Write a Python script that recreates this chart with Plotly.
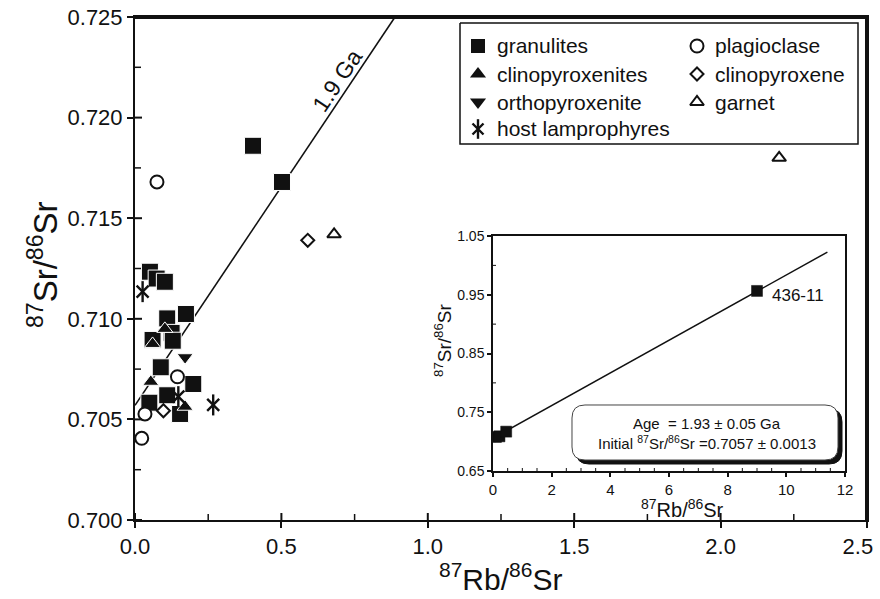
import plotly.graph_objects as go

# ---------------- data: main isochron diagram ----------------
gran_x = [0.051, 0.074, 0.102, 0.110, 0.174, 0.125, 0.060, 0.129, 0.088, 0.199,
          0.110, 0.049, 0.154, 0.403, 0.502]
gran_y = [0.71234, 0.71200, 0.71184, 0.71002, 0.71024, 0.70930, 0.70895, 0.70891,
          0.70759, 0.70676, 0.70620, 0.70583, 0.70527, 0.71860, 0.71680]

cpxite_x = [0.102, 0.060, 0.054, 0.171]
cpxite_y = [0.70950, 0.70875, 0.70687, 0.70563]

opxite_x = [0.171]
opxite_y = [0.70809]

lamp_x = [0.026, 0.148, 0.267]
lamp_y = [0.71135, 0.70613, 0.70572]

plag_x = [0.075, 0.145, 0.034, 0.023]
plag_y = [0.71680, 0.70712, 0.70527, 0.70406]

cpx_x = [0.097, 0.590]
cpx_y = [0.70543, 0.71390]

grt_x = [0.680, 2.200]
grt_y = [0.71420, 0.71800]

# 1.9 Ga reference line
ref_x = [0.0, 0.888]
ref_y = [0.7057, 0.725]

# ---------------- data: whole-rock isochron inset ----------------
iso_x = [0.10, 0.22, 0.45, 9.0]
iso_y = [0.7080, 0.7090, 0.7170, 0.9565]
iso_line_x = [0.0, 11.4]
iso_line_y = [0.7057, 1.0226]
iso_label = "436-11"

# axis ticks
X_RANGE = [0.0, 2.5]
Y_RANGE = [0.700, 0.725]
main_x_major = [0.0, 0.5, 1.0, 1.5, 2.0, 2.5]
main_x_labels = ["0.0", "0.5", "1.0", "1.5", "2.0", "2.5\u00a0\u00a0\u00a0"]
main_x_minor = [0.25, 0.75, 1.25, 1.75, 2.25]
main_y_major = [0.700, 0.705, 0.710, 0.715, 0.720, 0.725]
main_y_minor = [0.7025, 0.7075, 0.7125, 0.7175, 0.7225]
inset_x_major = [0, 2, 4, 6, 8, 10, 12]
inset_x_minor = [v / 2 for v in range(1, 24) if v % 4]
inset_y_major = [0.65, 0.75, 0.85, 0.95, 1.05]
inset_y_minor = [0.70, 0.80, 0.90, 1.00]

# legend entries (two columns)
legend_left = ["granulites", "clinopyroxenites", "orthopyroxenite", "host lamprophyres"]
legend_right = ["plagioclase", "clinopyroxene", "garnet"]

FONT = "Liberation Sans, Arial, sans-serif"
BLACK = "#111111"
CLEAR = "rgba(0,0,0,0)"

W, H = 880, 599
L, R, T, B = 135, 13, 17, 79
PW, PH = W - L - R, H - T - B

# legend frame (pixels)
LG_X0, LG_X1, LG_Y0, LG_Y1 = 460, 858, 23, 144
# inset frame (pixels)
IN_X0, IN_X1, IN_Y0, IN_Y1 = 493, 845, 236, 471


def px(x):
    """pixel column -> paper x"""
    return (x - L) / PW


def py(y):
    """pixel row -> paper y"""
    return (H - B - y) / PH


def main_col(v):
    """main x value -> pixel column"""
    return L + (v - X_RANGE[0]) / (X_RANGE[1] - X_RANGE[0]) * PW


def main_row(v):
    """main y value -> pixel row"""
    return H - B - (v - Y_RANGE[0]) / (Y_RANGE[1] - Y_RANGE[0]) * PH


fig = go.Figure()

# reference line
fig.add_trace(go.Scatter(x=ref_x, y=ref_y, mode="lines",
                         line=dict(color=BLACK, width=1.6), hoverinfo="skip"))

filled_line = dict(color="white", width=1)
open_line = dict(color=BLACK, width=2)

fig.add_trace(go.Scatter(x=gran_x, y=gran_y, mode="markers", name="granulites",
                         marker=dict(symbol="square", size=17, color=BLACK, line=filled_line)))
fig.add_trace(go.Scatter(x=cpxite_x, y=cpxite_y, mode="markers", name="clinopyroxenites",
                         marker=dict(symbol="triangle-up", size=14, color=BLACK, line=filled_line)))
fig.add_trace(go.Scatter(x=opxite_x, y=opxite_y, mode="markers", name="orthopyroxenite",
                         marker=dict(symbol="triangle-down", size=14, color=BLACK, line=filled_line)))
fig.add_trace(go.Scatter(x=plag_x, y=plag_y, mode="markers", name="plagioclase",
                         marker=dict(symbol="circle", size=13, color="white", line=open_line)))
fig.add_trace(go.Scatter(x=cpx_x, y=cpx_y, mode="markers", name="clinopyroxene",
                         marker=dict(symbol="diamond", size=10, color="white", line=open_line)))
fig.add_trace(go.Scatter(x=grt_x, y=grt_y, mode="markers", name="garnet",
                         marker=dict(symbol="triangle-up", size=12, color="white", line=open_line)))
# six-armed star: an X plus a vertical stroke
fig.add_trace(go.Scatter(x=lamp_x, y=lamp_y, mode="markers", name="host lamprophyres",
                         marker=dict(symbol="x-thin-open", size=12, color=BLACK,
                                     line=dict(color=BLACK, width=2.4))))
fig.add_trace(go.Scatter(x=lamp_x, y=lamp_y, mode="markers", showlegend=False,
                         marker=dict(symbol="line-ns-open", size=15, color=BLACK,
                                     line=dict(color=BLACK, width=2.4))))

# inset isochron
fig.add_trace(go.Scatter(x=iso_line_x, y=iso_line_y, mode="lines", xaxis="x2", yaxis="y2",
                         line=dict(color=BLACK, width=1.5), hoverinfo="skip"))
fig.add_trace(go.Scatter(x=iso_x, y=iso_y, mode="markers", xaxis="x2", yaxis="y2",
                         marker=dict(symbol="square", size=11, color=BLACK,
                                     line=dict(color=BLACK, width=0.5))))


# ---- tick marks and legend drawn on a pixel-space subplot over the plot area ----
def segs(pairs):
    xs, ys = [], []
    for (x0, y0), (x1, y1) in pairs:
        xs += [x0, x1, None]
        ys += [y0, y1, None]
    return xs, ys


def pix_trace(xs, ys, width, mode="lines", marker=None):
    fig.add_trace(go.Scatter(x=xs, y=ys, xaxis="x3", yaxis="y3", mode=mode,
                             line=dict(color=BLACK, width=width), marker=marker,
                             cliponaxis=False, hoverinfo="skip", connectgaps=False))


top, bot, lef, rig = T, H - B, L, W - R
# inner halves of the major ticks
major_pairs = [((main_col(v), bot - 7), (main_col(v), bot)) for v in main_x_major]
major_pairs += [((lef, main_row(v)), (lef + 7, main_row(v))) for v in main_y_major]
pix_trace(*segs(major_pairs), 2)
# minor ticks inside
minor_pairs = [((main_col(v), bot - 6), (main_col(v), bot)) for v in main_x_minor]
minor_pairs += [((lef, main_row(v)), (lef + 6, main_row(v))) for v in main_y_minor]
pix_trace(*segs(minor_pairs), 1.5)
# legend frame
pix_trace([LG_X0, LG_X1, LG_X1, LG_X0, LG_X0], [LG_Y0, LG_Y0, LG_Y1, LG_Y1, LG_Y0], 1.5)

# legend glyphs
lx1, lx2 = 478, 697
ly = [46, 74, 102, 129]
glyphs = [
    (lx1, ly[0], dict(symbol="square", size=14, color=BLACK)),
    (lx1, ly[1], dict(symbol="triangle-up", size=14, color=BLACK)),
    (lx1, ly[2], dict(symbol="triangle-down", size=14, color=BLACK)),
    (lx1, ly[3], dict(symbol="x-thin-open", size=11, color=BLACK, line=dict(color=BLACK, width=2.4))),
    (lx1, ly[3], dict(symbol="line-ns-open", size=14, color=BLACK, line=dict(color=BLACK, width=2.4))),
    (lx2, ly[0], dict(symbol="circle", size=13, color="white", line=open_line)),
    (lx2, ly[1], dict(symbol="diamond", size=10, color="white", line=open_line)),
    (lx2, ly[2], dict(symbol="triangle-up", size=12, color="white", line=open_line)),
]
for gx, gy, mk in glyphs:
    pix_trace([gx], [gy], 1, mode="markers", marker=mk)


def note(x, y, text, size, angle=0, xanchor="center", yanchor="middle"):
    return dict(x=px(x), y=py(y), xref="paper", yref="paper", text=text, showarrow=False,
                textangle=angle, xanchor=xanchor, yanchor=yanchor,
                font=dict(family=FONT, size=size, color=BLACK))


annotations = []
for i, t in enumerate(legend_left):
    annotations.append(note(lx1 + 17, ly[i], t, 21, xanchor="left"))
for i, t in enumerate(legend_right):
    annotations.append(note(lx2 + 16, ly[i], t, 21, xanchor="left"))

# axis titles
annotations.append(note(500, 577, "<sup>87</sup>Rb/<sup>86</sup>Sr", 30))
annotations.append(note(43, 265, "<sup>87</sup>Sr/<sup>86</sup>Sr", 33, angle=-90))
# 1.9 Ga label
annotations.append(note(337, 81, "1.9 Ga", 23, angle=-56))
# inset labels
annotations.append(dict(x=iso_x[-1], y=iso_y[-1], xref="x2", yref="y2", showarrow=False,
                        text=iso_label, xanchor="left", yanchor="middle", xshift=13, yshift=-5,
                        font=dict(family=FONT, size=17, color=BLACK)))
annotations.append(note(682, 508, "<sup>87</sup>Rb/<sup>86</sup>Sr", 20))
annotations.append(note(443, 340, "<sup>87</sup>Sr/<sup>86</sup>Sr", 19, angle=-90))
annotations.append(note(707, 423, "Age  = 1.93 \u00b1 0.05 Ga", 15))
annotations.append(note(707, 443, "Initial <sup>87</sup>Sr/<sup>86</sup>Sr =0.7057 \u00b1 0.0013", 15))


def path_of(points, close=True):
    """open/closed polyline path in paper coordinates from pixel points"""
    s = "M " + " L ".join(f"{px(a):.5f},{py(b):.5f}" for a, b in points)
    return s + (" Z" if close else "")


def rounded(x0, y0, x1, y1, r):
    """rounded rectangle path in paper coordinates from pixel corners"""
    pts = [("M", [(x0 + r, y0)]), ("L", [(x1 - r, y0)]), ("Q", [(x1, y0), (x1, y0 + r)]),
           ("L", [(x1, y1 - r)]), ("Q", [(x1, y1), (x1 - r, y1)]), ("L", [(x0 + r, y1)]),
           ("Q", [(x0, y1), (x0, y1 - r)]), ("L", [(x0, y0 + r)]), ("Q", [(x0, y0), (x0 + r, y0)])]
    out = []
    for cmd, coords in pts:
        out.append(cmd + " " + " ".join(f"{px(a):.5f},{py(b):.5f}" for a, b in coords))
    return " ".join(out) + " Z"


shapes = [
    # frame of the main diagram (left/bottom edges come from the axis lines)
    dict(type="path", xref="paper", yref="paper",
         path=path_of([(lef, top + 1), (rig - 1, top + 1), (rig - 1, bot)], close=False),
         line=dict(color=BLACK, width=2), layer="above"),
    # shadowed result box
    dict(type="path", xref="paper", yref="paper", path=rounded(576, 409, 842, 464, 13),
         fillcolor=BLACK, line=dict(color=BLACK, width=1)),
    dict(type="path", xref="paper", yref="paper", path=rounded(572, 405, 838, 460, 13),
         fillcolor="white", line=dict(color="#444444", width=1)),
]
# inset minor ticks (inside)
for v in inset_x_minor:
    shapes.append(dict(type="line", xref="x2", yref="y2 domain", x0=v, x1=v, y0=0,
                       y1=3 / (IN_Y1 - IN_Y0), line=dict(color=BLACK, width=1)))
for v in inset_y_minor:
    shapes.append(dict(type="line", xref="x2 domain", yref="y2", x0=0, x1=3 / (IN_X1 - IN_X0),
                       y0=v, y1=v, line=dict(color=BLACK, width=1)))

axis_common = dict(showgrid=False, zeroline=False, linecolor=BLACK, tickcolor=BLACK,
                   automargin=False, ticklabeloverflow="allow", fixedrange=True)

fig.update_layout(
    template="none",
    width=W, height=H, autosize=False,
    margin=dict(l=L, r=R, t=T, b=B, pad=0),
    paper_bgcolor="white", plot_bgcolor=CLEAR,
    showlegend=False,
    font=dict(family=FONT, color=BLACK),
    xaxis=dict(axis_common, range=X_RANGE, tickvals=main_x_major, ticktext=main_x_labels,
               showline=True, mirror=True, linewidth=2, ticks="outside", ticklen=6, tickwidth=2,
               tickfont=dict(family=FONT, size=22, color=BLACK)),
    yaxis=dict(axis_common, range=Y_RANGE, tickvals=main_y_major, tickformat=".3f",
               showline=True, mirror=True, linewidth=2, ticks="outside", ticklen=6, tickwidth=2,
               tickfont=dict(family=FONT, size=22, color=BLACK)),
    xaxis2=dict(axis_common, domain=[px(IN_X0), px(IN_X1)], anchor="y2", range=[0, 12],
                tickvals=inset_x_major, showline=True, mirror=True, linewidth=1.5,
                ticks="outside", ticklen=4, tickwidth=1.5,
                tickfont=dict(family=FONT, size=15, color=BLACK)),
    yaxis2=dict(axis_common, domain=[py(IN_Y1), py(IN_Y0)], anchor="x2", range=[0.65, 1.05],
                tickvals=inset_y_major, tickformat=".2f", showline=True, mirror=True,
                linewidth=1.5, ticks="outside", ticklen=4, tickwidth=1.5,
                tickfont=dict(family=FONT, size=14, color=BLACK)),
    xaxis3=dict(domain=[0, 1], anchor="y3", range=[L, W - R], visible=False, fixedrange=True),
    yaxis3=dict(domain=[0, 1], anchor="x3", range=[H - B, T], visible=False, fixedrange=True),
    annotations=annotations,
    shapes=shapes,
)

fig.write_html("out.html")
